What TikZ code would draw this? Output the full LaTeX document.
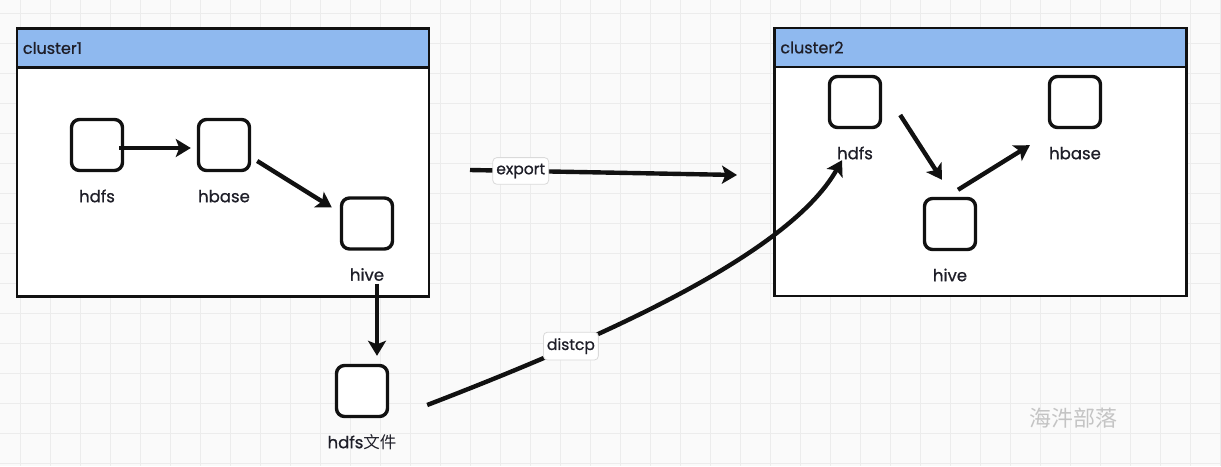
\documentclass[tikz,border=0pt]{standalone}
\usepackage{fontspec}
\setmainfont{Poppins}[FakeBold=0.8]
\newfontfamily\cjkfont{Noto Sans CJK SC}
\newfontfamily\stampfont{Noto Sans CJK SC}
\usetikzlibrary{arrows.meta,positioning}
\definecolor{PaperGray}{HTML}{FAFAFA}
\definecolor{GridGray}{HTML}{ECECEC}
\definecolor{HeadBlue}{HTML}{8FB9EF}
\definecolor{InkBlack}{HTML}{111111}
\definecolor{TextDark}{HTML}{1E1E28}
\definecolor{TagLine}{HTML}{DADADA}
\definecolor{StampGray}{HTML}{C4C4C4}
\tikzset{
  gridline/.style={draw=GridGray,line width=1pt},
  clusterbox/.style={draw=InkBlack,line width=2.6pt,fill=white,minimum width=412pt,
              minimum height=268pt,inner sep=0pt},
  header/.style={draw=InkBlack,line width=2.6pt,fill=HeadBlue,minimum width=412pt,
              minimum height=39pt,inner sep=0pt},
  headtext/.style={font=\fontsize{16}{19}\selectfont,text=TextDark,anchor=west,inner sep=0pt},
  store/.style={draw=InkBlack,line width=3.4pt,rounded corners=8pt,fill=white,
              minimum size=51pt,inner sep=0pt},
  caption/.style={font=\fontsize{16.5}{19}\selectfont,text=TextDark,inner sep=0pt,anchor=base},
  tag/.style={draw=TagLine,line width=0.8pt,rounded corners=4pt,fill=white,text=TextDark,
              font=\fontsize{15.5}{18}\selectfont,inner xsep=3.5pt,inner ysep=6pt},
  flow/.style={-{Stealth[length=15pt,width=18pt,inset=3.5pt]},line width=4.4pt,draw=InkBlack},
  stamp/.style={font=\stampfont\fontsize{22}{25}\selectfont,text=StampGray}
}

\begin{document}
\begin{tikzpicture}[x=1pt,y=-1pt]
  \path[use as bounding box,fill=PaperGray] (0,0) rectangle (1221,466);
  \foreach \gx in {20,50,...,1220} \draw[gridline] (\gx,0) -- (\gx,466);
  \foreach \gy in {13,43,...,463} \draw[gridline] (0,\gy) -- (1221,\gy);

  % cluster1
  \node[clusterbox] (cluster1) at (223,162.5) {};
  \node[header,anchor=north] (head1) at (cluster1.north) {};
  \node[headtext] (name1) at ([xshift=7pt]head1.west) {cluster1};
  \node[store] (hdfsA) at (97,145) {};
  \node[store] (hbaseA) at (224,145) {};
  \node[store] (hiveA) at (367,223.5) {};
  \node[caption] (hdfsAcap) at ([yshift=-30pt]hdfsA.south) {hdfs};
  \node[caption] (hbaseAcap) at ([yshift=-30pt]hbaseA.south) {hbase};
  \node[caption] (hiveAcap) at ([yshift=-30pt]hiveA.south) {hive};

  % exported file
  \node[store] (file) at (362,391) {};
  \node[caption] (filecap) at ([yshift=-30pt]file.south) {hdfs{\cjkfont 文件}};

  % cluster2
  \node[clusterbox] (cluster2) at (980.5,162) {};
  \node[header,anchor=north] (head2) at (cluster2.north) {};
  \node[headtext] (name2) at ([xshift=7pt]head2.west) {cluster2};
  \node[store] (hdfsB) at (855,102) {};
  \node[store] (hbaseB) at (1075,102) {};
  \node[store] (hiveB) at (950,224) {};
  \node[caption] (hdfsBcap) at ([yshift=-30pt]hdfsB.south) {hdfs};
  \node[caption] (hbaseBcap) at ([yshift=-30pt]hbaseB.south) {hbase};
  \node[caption] (hiveBcap) at ([yshift=-30pt]hiveB.south) {hive};

  \draw[flow] ([shift={(-5,3)}]hdfsA.east) -- ([shift={(-6,3)}]hbaseA.west);
  \draw[flow] ([shift={(6,16)}]hbaseA.east) -- ([shift={(-8,-16)}]hiveA.west);
  \draw[flow] ([shift={(10,33)}]hiveA.south) -- ([shift={(15,-8)}]file.north);
  \draw[flow] ([shift={(18,13)}]hdfsB.east) -- ([shift={(-8,-17)}]hiveB.north);
  \draw[flow] ([shift={(8,-7)}]hiveB.north) -- ([shift={(-18,16)}]hbaseB.south west);

  \coordinate (expfrom) at (470,170);
  \coordinate (expto) at (737,175);
  \draw[flow] (expfrom) -- node[tag,pos=0.19] (exptag) {export} (expto);
  \draw[flow] ([shift={(38,14)}]file.east) .. controls (596,340) and (788,256) ..
    ([shift={(-13,31)}]hdfsB.south) node[tag,pos=0.28] (disttag) {distcp};

  \node[stamp] (mark) at (1073,418) {海汼部落};
\end{tikzpicture}
\end{document}
